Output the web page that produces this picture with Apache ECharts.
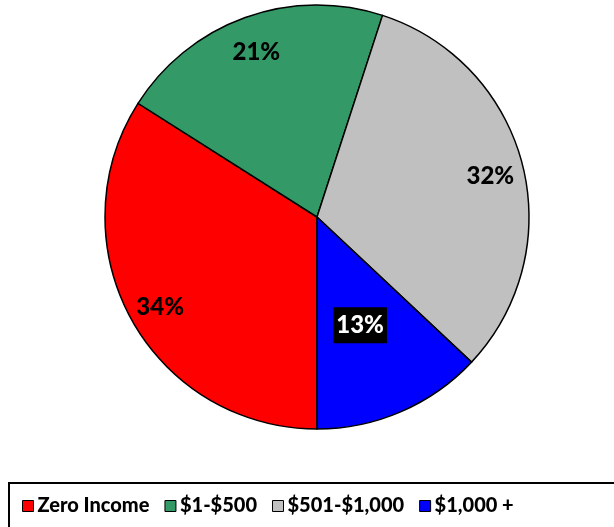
<!DOCTYPE html>
<html>
<head>
<meta charset="utf-8">
<script src="https://cdn.jsdelivr.net/npm/echarts@6/dist/echarts.min.js"></script>
<style>
html,body{margin:0;padding:0;background:#fff;}
#chart{width:614px;height:527px;}
</style>
</head>
<body>
<div id="chart"></div>
<script>
// 收入分组
var categories = ['Zero Income', '$1-$500', '$501-$1,000', '$1,000 +'];
var shares = [34, 21, 32, 13];
var colors = ['#ff0000', '#339966', '#c0c0c0', '#0000ff'];

var chart = echarts.init(document.getElementById('chart'));

var pieData = [];
var labelData = [];
for (var i = 0; i < categories.length; i++) {
	pieData.push({name: categories[i], value: shares[i], itemStyle: {color: colors[i]}});
	labelData.push({name: categories[i], value: shares[i]});
}
// 蓝色块标签:黑底白字
labelData[3].label = {color: '#fff', backgroundColor: '#000', padding: [7, 3, 5, 3]};

var font = 'Lato, "Open Sans", sans-serif';

var option = {
	backgroundColor: '#fff',
	animation: false,
	legend: {
		data: categories,
		left: 17,
		top: 491,
		itemWidth: 11,
		itemHeight: 11,
		itemGap: 15,
		icon: 'rect',
		itemStyle: {borderColor: '#000', borderWidth: 1},
		textStyle: {fontFamily: font, fontWeight: 900, fontSize: 20, color: '#000', padding: [0, 0, 0, -1]}
	},
	graphic: [{
		type: 'rect',
		shape: {x: 9, y: 483, width: 700, height: 100},
		style: {fill: 'none', stroke: '#000', lineWidth: 2},
		silent: true
	}],
	series: [{
		type: 'pie',
		center: [317, 217],
		radius: 212,
		startAngle: -90,
		clockwise: true,
		label: {show: false},
		labelLine: {show: false},
		itemStyle: {borderColor: '#000', borderWidth: 1.5},
		emphasis: {disabled: true},
		data: pieData
	}, {
		// 标签层
		type: 'pie',
		center: [317, 217],
		radius: [140, 212],
		startAngle: -90,
		clockwise: true,
		silent: true,
		itemStyle: {color: 'rgba(0,0,0,0)', borderWidth: 0},
		label: {
			show: true,
			position: 'inside',
			formatter: '{c}%',
			fontFamily: font,
			fontWeight: 900,
			fontSize: 24,
			color: '#000'
		},
		labelLayout: function (p) {
			if (p.dataIndex === 3) return {dx: -28, dy: -56};
			return {dy: 4};
		},
		labelLine: {show: false},
		emphasis: {disabled: true},
		data: labelData
	}]
};

chart.setOption(option);
</script>
</body>
</html>
